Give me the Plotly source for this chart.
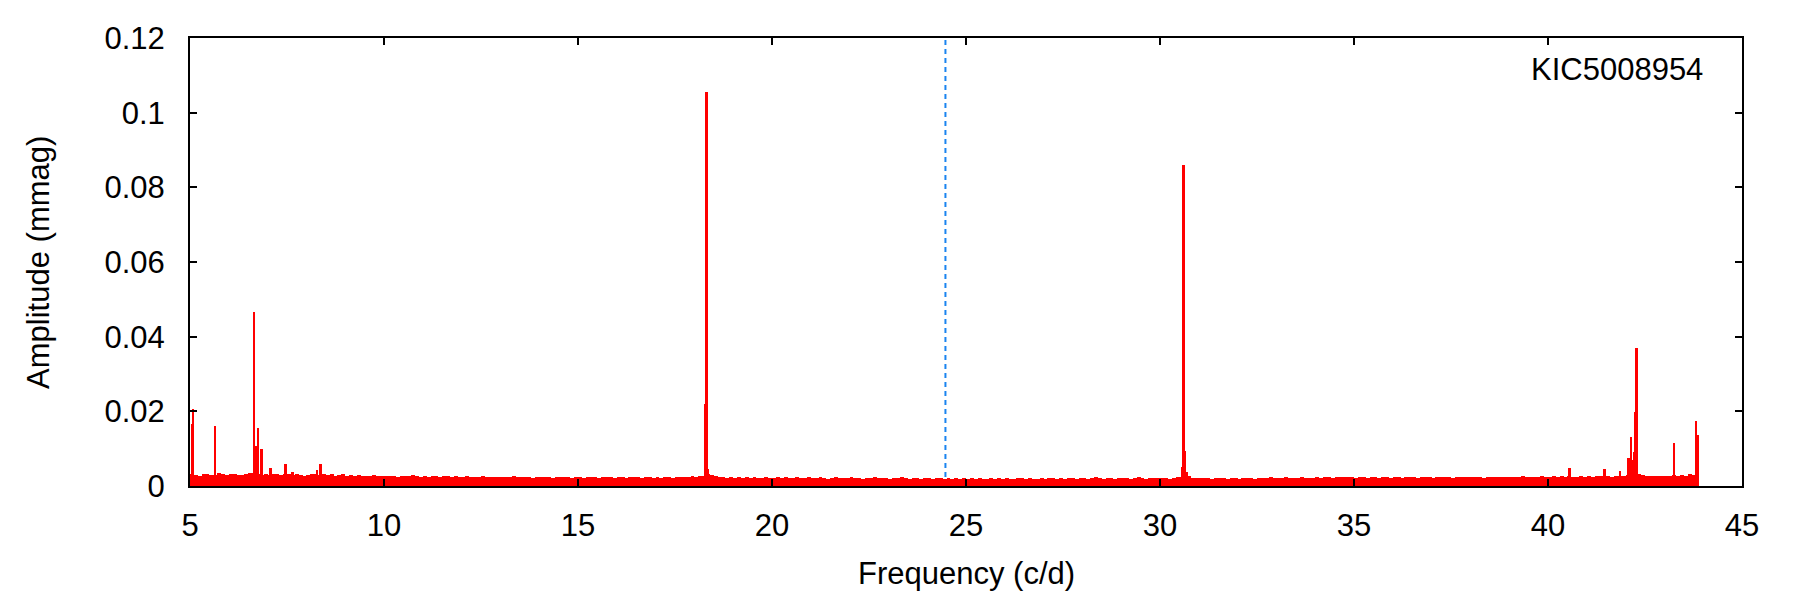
import numpy as np
import plotly.graph_objects as go

# ---- data ----
star_label = "KIC5008954"
nyquist = 24.47  # c/d, dotted marker line

# noise-floor amplitudes (mmag), 0.1 c/d bins starting at 5.0 c/d
noise_start = 5.0
noise_step = 0.1
noise_amp = [
    0.0032, 0.0030, 0.0028, 0.0033, 0.0031, 0.0029, 0.0030, 0.0034, 0.0031, 0.0030,  # 5
    0.0031, 0.0033, 0.0029, 0.0030, 0.0032, 0.0035, 0.0036, 0.0033, 0.0030, 0.0031,  # 6
    0.0029, 0.0031, 0.0033, 0.0030, 0.0032, 0.0031, 0.0029, 0.0032, 0.0030, 0.0028,  # 7
    0.0030, 0.0031, 0.0033, 0.0029, 0.0031, 0.0030, 0.0032, 0.0028, 0.0029, 0.0031,  # 8
    0.0028, 0.0029, 0.0027, 0.0030, 0.0028, 0.0026, 0.0027, 0.0029, 0.0028, 0.0027,  # 9
    0.0026, 0.0028, 0.0027, 0.0025, 0.0028, 0.0026, 0.0027, 0.0029, 0.0026, 0.0025,  # 10
    0.0027, 0.0025, 0.0026, 0.0028, 0.0025, 0.0027, 0.0026, 0.0024, 0.0026, 0.0025,  # 11
    0.0024, 0.0026, 0.0025, 0.0023, 0.0025, 0.0027, 0.0024, 0.0025, 0.0023, 0.0024,  # 12
    0.0025, 0.0023, 0.0024, 0.0026, 0.0024, 0.0023, 0.0025, 0.0024, 0.0022, 0.0024,  # 13
    0.0023, 0.0025, 0.0024, 0.0022, 0.0024, 0.0023, 0.0025, 0.0024, 0.0022, 0.0023,  # 14
    0.0024, 0.0022, 0.0023, 0.0025, 0.0023, 0.0022, 0.0024, 0.0023, 0.0025, 0.0022,  # 15
    0.0023, 0.0024, 0.0022, 0.0023, 0.0025, 0.0023, 0.0022, 0.0024, 0.0023, 0.0022,  # 16
    0.0024, 0.0022, 0.0023, 0.0024, 0.0022, 0.0023, 0.0025, 0.0023, 0.0024, 0.0026,  # 17
    0.0025, 0.0027, 0.0028, 0.0032, 0.0030, 0.0027, 0.0024, 0.0023, 0.0022, 0.0024,  # 18
    0.0022, 0.0023, 0.0021, 0.0023, 0.0022, 0.0024, 0.0022, 0.0021, 0.0023, 0.0022,  # 19
    0.0021, 0.0023, 0.0022, 0.0024, 0.0021, 0.0022, 0.0023, 0.0021, 0.0022, 0.0023,  # 20
    0.0022, 0.0021, 0.0023, 0.0022, 0.0020, 0.0022, 0.0023, 0.0021, 0.0022, 0.0021,  # 21
    0.0023, 0.0021, 0.0022, 0.0020, 0.0022, 0.0021, 0.0023, 0.0022, 0.0021, 0.0022,  # 22
    0.0020, 0.0022, 0.0021, 0.0023, 0.0021, 0.0020, 0.0022, 0.0021, 0.0020, 0.0022,  # 23
    0.0021, 0.0020, 0.0022, 0.0021, 0.0019, 0.0021, 0.0020, 0.0022, 0.0020, 0.0021,  # 24
    0.0019, 0.0021, 0.0020, 0.0022, 0.0020, 0.0019, 0.0021, 0.0020, 0.0022, 0.0020,  # 25
    0.0021, 0.0020, 0.0019, 0.0021, 0.0022, 0.0020, 0.0021, 0.0019, 0.0020, 0.0022,  # 26
    0.0020, 0.0021, 0.0022, 0.0020, 0.0021, 0.0019, 0.0021, 0.0022, 0.0020, 0.0021,  # 27
    0.0022, 0.0020, 0.0021, 0.0023, 0.0021, 0.0020, 0.0022, 0.0021, 0.0020, 0.0022,  # 28
    0.0021, 0.0022, 0.0020, 0.0021, 0.0023, 0.0021, 0.0020, 0.0022, 0.0021, 0.0022,  # 29
    0.0021, 0.0022, 0.0020, 0.0022, 0.0023, 0.0024, 0.0028, 0.0026, 0.0022, 0.0021,  # 30
    0.0022, 0.0021, 0.0022, 0.0020, 0.0021, 0.0022, 0.0021, 0.0020, 0.0022, 0.0021,  # 31
    0.0020, 0.0022, 0.0021, 0.0022, 0.0020, 0.0021, 0.0022, 0.0021, 0.0023, 0.0021,  # 32
    0.0022, 0.0021, 0.0023, 0.0022, 0.0021, 0.0022, 0.0024, 0.0022, 0.0021, 0.0022,  # 33
    0.0023, 0.0022, 0.0024, 0.0023, 0.0022, 0.0024, 0.0023, 0.0025, 0.0024, 0.0023,  # 34
    0.0022, 0.0024, 0.0023, 0.0022, 0.0024, 0.0023, 0.0022, 0.0024, 0.0023, 0.0022,  # 35
    0.0024, 0.0023, 0.0022, 0.0024, 0.0023, 0.0025, 0.0022, 0.0023, 0.0024, 0.0023,  # 36
    0.0022, 0.0024, 0.0023, 0.0025, 0.0024, 0.0022, 0.0023, 0.0024, 0.0023, 0.0025,  # 37
    0.0024, 0.0023, 0.0025, 0.0022, 0.0024, 0.0023, 0.0025, 0.0024, 0.0023, 0.0024,  # 38
    0.0025, 0.0023, 0.0024, 0.0026, 0.0024, 0.0023, 0.0025, 0.0024, 0.0026, 0.0024,  # 39
    0.0025, 0.0026, 0.0024, 0.0026, 0.0025, 0.0027, 0.0025, 0.0024, 0.0026, 0.0025,  # 40
    0.0027, 0.0025, 0.0026, 0.0028, 0.0026, 0.0027, 0.0025, 0.0026, 0.0028, 0.0027,  # 41
    0.0029, 0.0028, 0.0030, 0.0031, 0.0029, 0.0028, 0.0027, 0.0028, 0.0026, 0.0027,  # 42
    0.0028, 0.0026, 0.0029, 0.0027, 0.0030, 0.0028, 0.0031, 0.0029, 0.0030,          # 43
]

# significant peaks: frequency (c/d) and amplitude (mmag)
peak_freq = [5.05, 5.09, 5.66, 6.65, 6.70, 6.75, 6.85, 7.08, 7.47, 7.65, 8.27, 8.37,
             18.28, 18.32, 18.36, 18.44,
             30.58, 30.61, 30.64, 30.70,
             40.56, 41.46, 41.86, 42.08, 42.15, 42.19, 42.22, 42.26, 42.29,
             43.26, 43.83, 43.87]
peak_amp = [0.0166, 0.0205, 0.0160, 0.0466, 0.0107, 0.0155, 0.0099, 0.0048, 0.0059, 0.0037, 0.0043, 0.0059,
            0.0220, 0.1055, 0.0045, 0.0030,
            0.0052, 0.0860, 0.0094, 0.0037,
            0.0048, 0.0046, 0.0040, 0.0075, 0.0131, 0.0070, 0.0091, 0.0198, 0.0369,
            0.0115, 0.0174, 0.0137]

x_ticks = [5, 10, 15, 20, 25, 30, 35, 40, 45]
y_ticks = [0, 0.02, 0.04, 0.06, 0.08, 0.1, 0.12]

# ---- figure ----
noise_freq = noise_start + noise_step * (np.arange(len(noise_amp)) + 0.5)

FONT = "Liberation Sans, Arial, Helvetica, sans-serif"
RED = "#ff0000"

fig = go.Figure()
fig.add_trace(go.Bar(x=noise_freq, y=noise_amp, width=noise_step,
                     marker=dict(color=RED, line=dict(width=0)), showlegend=False))
fig.add_trace(go.Bar(x=peak_freq, y=peak_amp, width=0.045,
                     marker=dict(color=RED, line=dict(width=0)), showlegend=False))

fig.add_shape(type="line", xref="x", yref="paper", x0=nyquist, x1=nyquist, y0=0, y1=1,
              line=dict(color="#1a84f0", width=2, dash="5px,4px"), layer="below")

fig.add_annotation(text=star_label, xref="paper", yref="paper", x=0.976, y=0.929,
                   xanchor="right", yanchor="middle", showarrow=False,
                   font=dict(family=FONT, size=31, color="black"))
fig.add_annotation(text="Frequency (c/d)", xref="paper", yref="paper", x=0.5, y=-0.196,
                   xanchor="center", yanchor="middle", showarrow=False,
                   font=dict(family=FONT, size=31, color="black"))
fig.add_annotation(text="Amplitude (mmag)", xref="paper", yref="paper", x=-0.098, y=0.5,
                   xanchor="center", yanchor="middle", textangle=-90, showarrow=False,
                   font=dict(family=FONT, size=31, color="black"))

axis_common = dict(showgrid=False, zeroline=False, showline=True, linecolor="black",
                   linewidth=2, mirror="ticks", ticks="inside", ticklen=7, tickwidth=2,
                   tickcolor="black", tickfont=dict(family=FONT, size=31, color="black"))

fig.update_xaxes(range=[5, 45], tickvals=x_ticks, ticktext=[str(v) for v in x_ticks],
                 ticklabelstandoff=11, **axis_common)
fig.update_yaxes(range=[0, 0.12], tickvals=y_ticks,
                 ticktext=["0", "0.02", "0.04", "0.06", "0.08", "0.1", "0.12"],
                 ticklabelstandoff=17, **axis_common)

fig.update_layout(width=1800, height=600, barmode="overlay", bargap=0,
                  margin=dict(l=190, r=58, t=38, b=114, autoexpand=False),
                  plot_bgcolor="white", paper_bgcolor="white",
                  font=dict(family=FONT, size=31, color="black"))

fig.write_html("out.html")
